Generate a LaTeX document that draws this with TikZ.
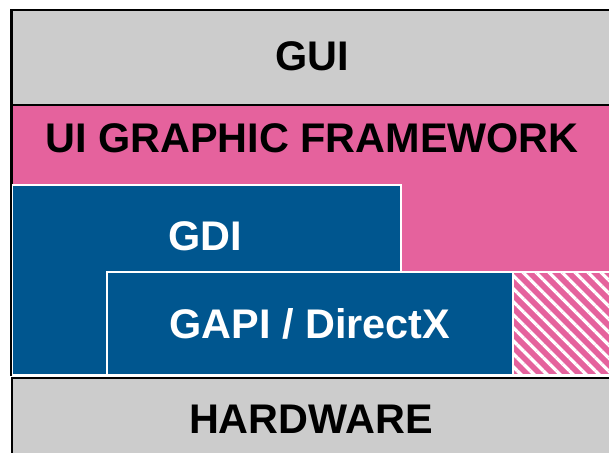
\documentclass[tikz,border=0pt]{standalone}
\usepackage{fontspec}
\setmainfont{Liberation Sans}
\usetikzlibrary{patterns.meta}
\definecolor{layergrey}{HTML}{CCCCCC}
\definecolor{fwpink}{HTML}{E5629D}
\definecolor{gdiblue}{HTML}{00568F}
\begin{document}
\begin{tikzpicture}[x=0.5pt,y=-0.5pt,
  box/.style={rectangle, inner sep=0pt, line width=1pt},
  txt/.style={font=\fontsize{20.7}{25}\selectfont\bfseries}]
\useasboundingbox (0,0) rectangle (609,452);
\node[box, draw=black, fill=layergrey, minimum width=304pt, minimum height=47.5pt] (gui) at (316,57.5){};
\node[txt] (guilabel) at (312,56){GUI};
\node[box, draw=black, fill=fwpink, minimum width=304pt, minimum height=135pt] (fw) at (316,240){};
\node[txt] (fwlabel) at (312,138){UI GRAPHIC FRAMEWORK};
\node[box, draw=white, preaction={fill=fwpink}, pattern={Lines[angle=-45, distance=4.6pt, line width=1.6pt]}, pattern color=white, minimum width=52pt, minimum height=51.5pt] (hatch) at (565,323.5){};
\node[box, draw=white, fill=gdiblue, minimum width=194.5pt, minimum height=95pt] (gdi) at (206.5,280){};
\node[txt, text=white] (gdilabel) at (205,236){GDI};
\node[box, draw=white, fill=gdiblue, minimum width=203pt, minimum height=51.5pt, txt, text=white] (gapi) at (310,323.5){GAPI / DirectX};
\node[box, draw=black, fill=layergrey, minimum width=304pt, minimum height=41pt] (hw) at (316,419){};
\node[txt] (hwlabel) at (311,419){HARDWARE};
\draw[line width=1pt] (gui.north west) -- (gdi.south west);
\end{tikzpicture}
\end{document}
